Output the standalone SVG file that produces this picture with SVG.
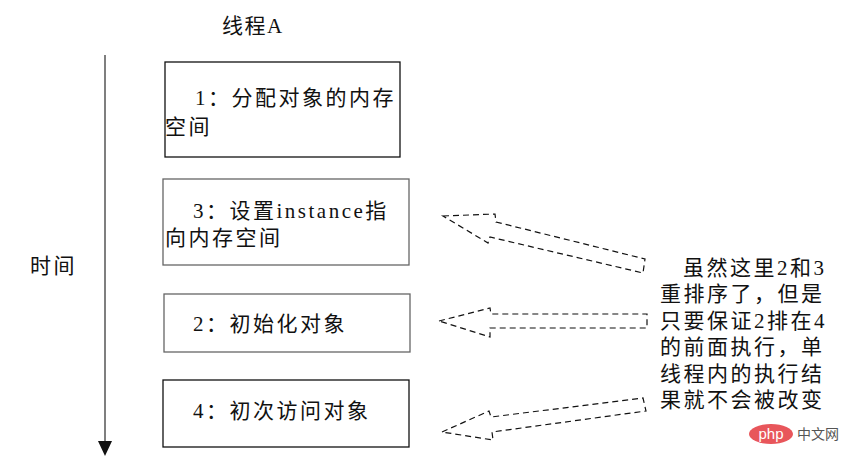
<svg xmlns="http://www.w3.org/2000/svg" width="850" height="466" viewBox="0 0 850 466">
<style>
text{font-family:"Liberation Serif","Noto Sans CJK SC",serif;fill:#111;}
.t{font-size:21px;letter-spacing:2.5px;}
.box{fill:#fff;stroke-width:1.3;}
.dark{stroke:#111;}
.gray{stroke:#666;}
.blk{fill:none;stroke:#111;stroke-width:1.2;stroke-dasharray:6 4;stroke-linejoin:miter;}
</style>
<rect width="850" height="466" fill="#fff"/>
<g id="title"><text x="222" y="33" style="font-size:21px;letter-spacing:1.5px">线程A</text></g>
<g id="timeline">
<line x1="105" y1="55" x2="105" y2="442" stroke="#555" stroke-width="1.5"/>
<polygon points="98,441 112,441 105,456" fill="#111"/>
<text x="30" y="273" style="font-size:21px;letter-spacing:2.5px">时间</text>
</g>
<g id="step1">
<rect class="box dark" x="165" y="62" width="235" height="95"/>
<text class="t" x="195" y="105">1：分配对象的内存</text>
<text class="t" x="165" y="134">空间</text>
</g>
<g id="step3">
<rect class="box gray" x="163" y="179" width="246" height="86"/>
<text class="t" x="193" y="218">3：设置instance指</text>
<text class="t" x="165" y="245">向内存空间</text>
</g>
<g id="step2">
<rect class="box gray" x="164" y="294" width="246" height="58"/>
<text class="t" x="193" y="331">2：初始化对象</text>
</g>
<g id="step4">
<rect class="box dark" x="163" y="380" width="246" height="67"/>
<text class="t" x="193" y="418">4：初次访问对象</text>
</g>
<g id="connectors">
<polygon class="blk" points="443,216 495,214 496,222 645,259 643,273 490,237 488,243"/>
<polygon class="blk" points="439,321 490,308 491,314 647,314 647,328 490,328 490,337"/>
<polygon class="blk" points="442,432 489,411 491,417 643,398 646,411 492,432 493,440"/>
</g>
<g id="note">
<text class="t" x="683" y="275">虽然这里2和3</text>
<text class="t" x="660" y="301">重排序了，但是</text>
<text class="t" x="660" y="328">只要保证2排在4</text>
<text class="t" x="660" y="354">的前面执行，单</text>
<text class="t" x="660" y="381">线程内的执行结</text>
<text class="t" x="660" y="407">果就不会被改变</text>
</g>
<g id="watermark">
<ellipse cx="771" cy="434" rx="22" ry="10" fill="#e8565b"/>
<text x="771" y="439" text-anchor="middle" style="font-family:'Liberation Sans',sans-serif;font-size:15px;fill:#fff">php</text>
<text x="797" y="439" style="font-family:'Noto Sans CJK SC',sans-serif;font-size:14px;fill:#555">中文网</text>
</g>
</svg>
